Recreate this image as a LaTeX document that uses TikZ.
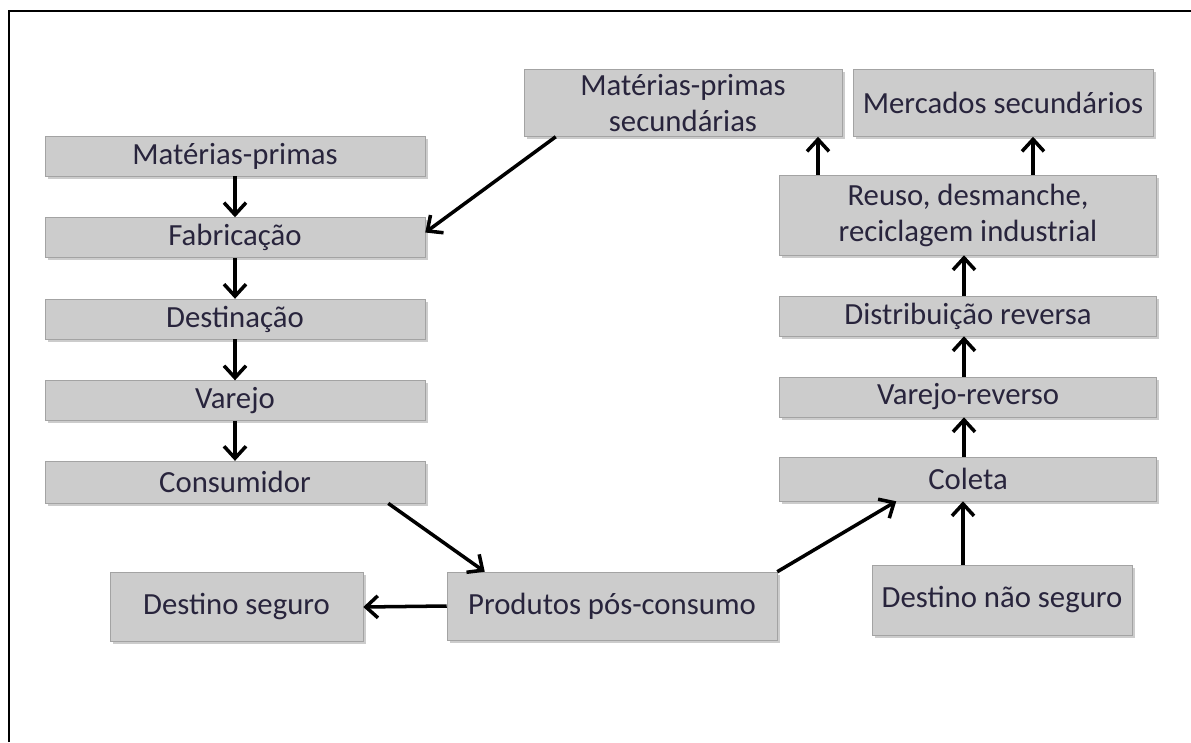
\documentclass[tikz,border=0pt]{standalone}
\usepackage{fontspec}
\setmainfont{Carlito}
\usepackage{tikz}
\usepackage{xcolor}
\usetikzlibrary{arrows.meta,positioning,shadows}

\definecolor{boxgray}{RGB}{204,204,204}
\definecolor{boxtext}{RGB}{40,36,60}

\begin{document}
\begin{tikzpicture}[->,>={Straight Barb[length=2.4mm,width=4.4mm]}, line width=2pt, node distance=0.82cm, align=center]

    \tikzstyle{etapa}=[fill=boxgray, draw=boxgray!80!black, line width=0.3pt, text=boxtext,
                       font=\fontsize{17.5}{20.5}\selectfont, inner sep=0pt,
                       drop shadow={shadow xshift=1.6pt, shadow yshift=-1.6pt, opacity=0.4}]

    \useasboundingbox (0,0) rectangle (23.82,-14.84);
    \draw[-, line width=1.6pt] (0.18,-14.84) -- (0.18,-0.22) -- (23.82,-0.22);

    % fluxo direto
    \node[etapa, minimum width=7.6cm, minimum height=0.8cm] (mp) at (4.70,-3.12) {Matérias-primas};
    \node[etapa, minimum width=7.6cm, minimum height=0.8cm, below=of mp] (fab) {Fabricação};
    \node[etapa, minimum width=7.6cm, minimum height=0.8cm, below=of fab] (dest) {Destinação};
    \node[etapa, minimum width=7.6cm, minimum height=0.8cm, below=of dest] (var) {Varejo};
    \node[etapa, minimum width=7.6cm, minimum height=0.84cm, below=0.8cm of var] (cons) {Consumidor};

    % pos-consumo
    \node[etapa, minimum width=6.6cm, minimum height=1.36cm] (prod) at (12.24,-12.12) {Produtos pós-consumo};
    \node[etapa, minimum width=5.06cm, minimum height=1.38cm] (dseg) at (4.73,-12.14) {Destino seguro};
    \node[etapa, minimum width=5.2cm, minimum height=1.4cm] (dns) at (20.04,-12.0) {Destino não seguro};

    % fluxo reverso
    \node[etapa, minimum width=7.54cm, minimum height=0.88cm] (col) at (19.36,-9.58) {Coleta};
    \node[etapa, minimum width=7.54cm, minimum height=0.8cm] (vrev) at (19.36,-7.94) {Varejo-reverso};
    \node[etapa, minimum width=7.54cm, minimum height=0.8cm] (dist) at (19.36,-6.32) {Distribuição reversa};
    \node[etapa, minimum width=7.54cm, minimum height=1.6cm] (reuso) at (19.36,-4.3) {Reuso, desmanche,\\ reciclagem industrial};
    \node[etapa, minimum width=6.36cm, minimum height=1.34cm] (mps) at (13.66,-2.06) {Matérias-primas\\ secundárias};
    \node[etapa, minimum width=6.0cm, minimum height=1.34cm] (merc) at (20.06,-2.06) {Mercados secundários};

    \draw (mp) -- (fab);
    \draw (fab) -- (dest);
    \draw (dest) -- (var);
    \draw (var) -- (cons);
    \draw ([xshift=0.64cm]mps.south west) -- ([yshift=0.1cm]fab.east);
    \draw ([xshift=-0.74cm]cons.south east) -- ([xshift=0.76cm]prod.north west);
    \draw (prod.west) -- (dseg.east);
    \draw (prod.north east) -- ([xshift=2.34cm]col.south west);
    \draw ([xshift=-0.78cm]dns.north) -- ([xshift=-0.78cm]dns.north |- col.south);
    \draw ([xshift=-0.08cm]col.north) -- ([xshift=-0.08cm]vrev.south);
    \draw ([xshift=-0.08cm]vrev.north) -- ([xshift=-0.08cm]dist.south);
    \draw ([xshift=-0.08cm]dist.north) -- ([xshift=-0.08cm]reuso.south);
    \draw ([xshift=-3.0cm]reuso.north) -- ([xshift=-3.0cm]reuso.north |- mps.south);
    \draw ([xshift=1.3cm]reuso.north) -- ([xshift=1.3cm]reuso.north |- merc.south);
\end{tikzpicture}
\end{document}
